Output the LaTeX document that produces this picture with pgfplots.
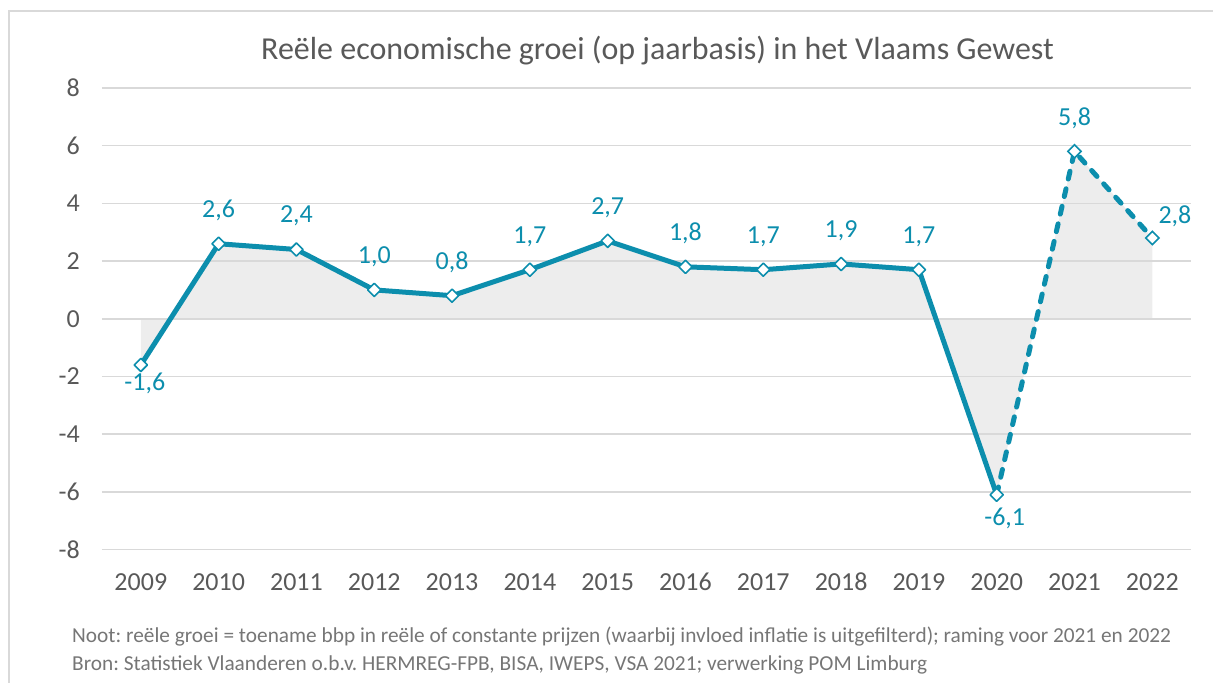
\documentclass[border=0pt]{standalone}
\usepackage{pgfplots}
\pgfplotsset{compat=1.18}
\usepackage{fontspec}
\setmainfont{Carlito}
\frenchspacing
\definecolor{teal1}{RGB}{12,142,173}
\definecolor{gridc}{RGB}{217,217,217}
\definecolor{txt}{RGB}{89,89,89}
\definecolor{note}{RGB}{118,118,118}
\definecolor{areac}{RGB}{237,237,237}
\begin{document}
\begin{tikzpicture}
\path (0,0) rectangle (910.5pt,512.25pt);
\draw[gridc, line width=1.2pt] (6.75pt,0) -- (6.75pt,504pt) -- (910.5pt,504pt);
\node[anchor=base, inner sep=0pt, text=txt, font=\fontsize{24}{28}\selectfont] at (493.5pt,467.25pt) {Reële economische groei (op jaarbasis) in het Vlaams Gewest};
\node[anchor=base west, inner sep=0pt, text=note, font=\fontsize{16}{19}\selectfont] at (54pt,30pt) {Noot: reële groei = toename bbp in reële of constante prijzen (waarbij invloed inflatie is uitgefilterd); raming voor 2021 en 2022};
\node[anchor=base west, inner sep=0pt, text=note, font=\fontsize{16}{19}\selectfont] at (54pt,9pt) {Bron: Statistiek Vlaanderen o.b.v. HERMREG-FPB, BISA, IWEPS, VSA 2021; verwerking POM Limburg};
\begin{axis}[
  set layers,
  at={(76.5pt,99.75pt)}, anchor=south west,
  scale only axis, width=817.5pt, height=346.5pt,
  xmin=-0.5, xmax=13.5, ymin=-8, ymax=8,
  axis line style={draw=none},
  major tick length=0pt,
  ytick={-8,-6,-4,-2,0,2,4,6,8},
  yticklabels={-8,-6,-4,-2,0,2,4,6,8},
  xtick={0,...,13},
  xticklabels={2009,2010,2011,2012,2013,2014,2015,2016,2017,2018,2019,2020,2021,2022},
  ymajorgrids,
  grid style={gridc, line width=1.1pt},
  tick label style={text=txt, font=\fontsize{19.5}{23}\selectfont},
  yticklabel style={anchor=east, inner sep=0pt, xshift=-16.5pt},
  xticklabel style={anchor=base, inner sep=0pt, yshift=-30.75pt},
  clip=false,
  nodes near coords style={text=teal1, font=\fontsize{19.5}{23}\selectfont, anchor=center, inner sep=0pt},
]
\addplot[draw=none, fill=areac, on layer=axis background] coordinates {
(0,-1.6) (1,2.6) (2,2.4) (3,1.0) (4,0.8) (5,1.7) (6,2.7) (7,1.8) (8,1.7) (9,1.9) (10,1.7) (11,-6.1) (12,5.8) (13,2.8)} \closedcycle;
\addplot[teal1, line width=3.75pt, line cap=round, dash pattern=on 6pt off 7.5pt, no marks] coordinates {(11,-6.1) (12,5.8) (13,2.8)};
\addplot[teal1, line width=3.75pt, line join=round, mark=square*, mark size=3.5pt,
  mark options={rotate=45, fill=white, draw=teal1, line width=1.2pt, solid}] coordinates {
(0,-1.6) (1,2.6) (2,2.4) (3,1.0) (4,0.8) (5,1.7) (6,2.7) (7,1.8) (8,1.7) (9,1.9) (10,1.7) (11,-6.1)};
\addplot[draw=none, mark=square*, mark size=3.5pt,
  mark options={rotate=45, fill=white, draw=teal1, line width=1.2pt, solid}] coordinates {(12,5.8) (13,2.8)};
\addplot[draw=none, no marks, nodes near coords, point meta=explicit symbolic,
  nodes near coords style={yshift=25pt}] coordinates {
(1,2.6)[{2,6}] (2,2.4)[{2,4}] (3,1.0)[{1,0}] (4,0.8)[{0,8}] (5,1.7)[{1,7}] (6,2.7)[{2,7}] (7,1.8)[{1,8}] (8,1.7)[{1,7}] (9,1.9)[{1,9}] (10,1.7)[{1,7}] (12,5.8)[{5,8}]};
\addplot[draw=none, no marks, nodes near coords, point meta=explicit symbolic,
  nodes near coords style={yshift=-13.5pt, xshift=3pt}] coordinates {(0,-1.6)[{-1,6}]};
\addplot[draw=none, no marks, nodes near coords, point meta=explicit symbolic,
  nodes near coords style={yshift=-18pt, xshift=6pt}] coordinates {(11,-6.1)[{-6,1}]};
\addplot[draw=none, no marks, nodes near coords, point meta=explicit symbolic,
  nodes near coords style={yshift=16.5pt, xshift=17pt}] coordinates {(13,2.8)[{2,8}]};
\end{axis}
\end{tikzpicture}
\end{document}
